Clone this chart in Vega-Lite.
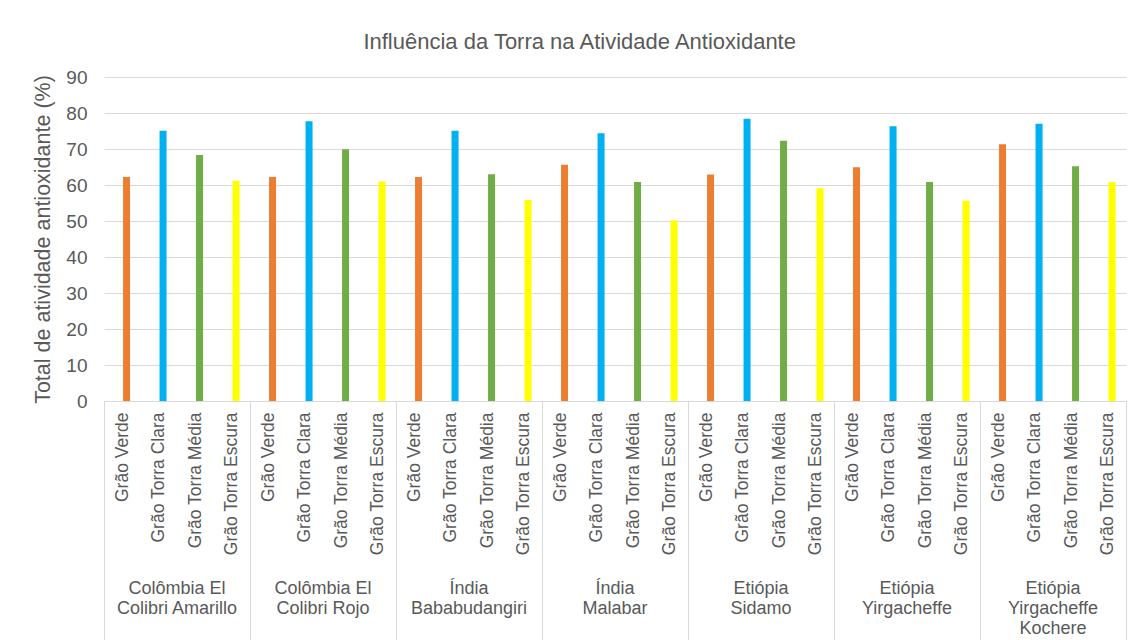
{
  "$schema": "https://vega.github.io/schema/vega-lite/v6.json",
  "padding": {"left": 32, "top": 31, "right": 0, "bottom": 0},
  "background": "white",
  "config": {"font": "Liberation Sans", "view": {"stroke": null}, "facet": {"spacing": 0}},
  "title": {"text": "Influência da Torra na Atividade Antioxidante", "fontSize": 22, "fontWeight": "normal", "color": "#595959", "offset": 14, "anchor": "middle"},
  "data": {"values": [
    {"origem": "Colômbia El\nColibri Amarillo", "torra": "Grão Verde", "valor": 62.2},
    {"origem": "Colômbia El\nColibri Amarillo", "torra": "Grão Torra Clara", "valor": 75.1},
    {"origem": "Colômbia El\nColibri Amarillo", "torra": "Grão Torra Média", "valor": 68.3},
    {"origem": "Colômbia El\nColibri Amarillo", "torra": "Grão Torra Escura", "valor": 61.2},
    {"origem": "Colômbia El\nColibri Rojo", "torra": "Grão Verde", "valor": 62.2},
    {"origem": "Colômbia El\nColibri Rojo", "torra": "Grão Torra Clara", "valor": 77.7},
    {"origem": "Colômbia El\nColibri Rojo", "torra": "Grão Torra Média", "valor": 69.9},
    {"origem": "Colômbia El\nColibri Rojo", "torra": "Grão Torra Escura", "valor": 61.0},
    {"origem": "Índia\nBababudangiri", "torra": "Grão Verde", "valor": 62.2},
    {"origem": "Índia\nBababudangiri", "torra": "Grão Torra Clara", "valor": 75.1},
    {"origem": "Índia\nBababudangiri", "torra": "Grão Torra Média", "valor": 63.0},
    {"origem": "Índia\nBababudangiri", "torra": "Grão Torra Escura", "valor": 55.8},
    {"origem": "Índia\nMalabar", "torra": "Grão Verde", "valor": 65.6},
    {"origem": "Índia\nMalabar", "torra": "Grão Torra Clara", "valor": 74.4},
    {"origem": "Índia\nMalabar", "torra": "Grão Torra Média", "valor": 60.8},
    {"origem": "Índia\nMalabar", "torra": "Grão Torra Escura", "valor": 50.2},
    {"origem": "Etiópia\nSidamo", "torra": "Grão Verde", "valor": 62.9},
    {"origem": "Etiópia\nSidamo", "torra": "Grão Torra Clara", "valor": 78.4},
    {"origem": "Etiópia\nSidamo", "torra": "Grão Torra Média", "valor": 72.3},
    {"origem": "Etiópia\nSidamo", "torra": "Grão Torra Escura", "valor": 59.1},
    {"origem": "Etiópia\nYirgacheffe", "torra": "Grão Verde", "valor": 64.9},
    {"origem": "Etiópia\nYirgacheffe", "torra": "Grão Torra Clara", "valor": 76.3},
    {"origem": "Etiópia\nYirgacheffe", "torra": "Grão Torra Média", "valor": 60.8},
    {"origem": "Etiópia\nYirgacheffe", "torra": "Grão Torra Escura", "valor": 55.6},
    {"origem": "Etiópia\nYirgacheffe\nKochere", "torra": "Grão Verde", "valor": 71.3},
    {"origem": "Etiópia\nYirgacheffe\nKochere", "torra": "Grão Torra Clara", "valor": 77.0},
    {"origem": "Etiópia\nYirgacheffe\nKochere", "torra": "Grão Torra Média", "valor": 65.2},
    {"origem": "Etiópia\nYirgacheffe\nKochere", "torra": "Grão Torra Escura", "valor": 60.8}
  ]},
  "spacing": 0,
  "facet": {
    "column": {
      "field": "origem", "type": "nominal",
      "sort": ["Colômbia El\nColibri Amarillo", "Colômbia El\nColibri Rojo", "Índia\nBababudangiri", "Índia\nMalabar", "Etiópia\nSidamo", "Etiópia\nYirgacheffe", "Etiópia\nYirgacheffe\nKochere"],
      "header": {
        "title": null,
        "labelOrient": "bottom",
        "labelExpr": "split(datum.value, '\\n')",
        "labelFontSize": 18,
        "labelColor": "#595959",
        "labelLineHeight": 20,
        "labelBaseline": "top",
        "labelPadding": -62
      }
    }
  },
  "spec": {
    "width": 146,
    "height": 324,
    "mark": {"type": "bar", "width": 7, "xOffset": 4.3},
    "encoding": {
      "x": {
        "field": "torra", "type": "nominal",
        "sort": ["Grão Verde", "Grão Torra Clara", "Grão Torra Média", "Grão Torra Escura"],
        "scale": {"paddingInner": 0, "paddingOuter": 0},
        "axis": {
          "title": null,
          "labelAngle": -90,
          "labelFontSize": 17.5,
          "labelColor": "#595959",
          "labelPadding": -229,
          "domainColor": "#D9D9D9",
          "tickColor": "#D9D9D9",
          "tickSize": 240,
          "tickBand": "extent",
          "tickOpacity": {"condition": {"test": "datum.value === 'Grão Torra Escura' || datum.value == null", "value": 1}, "value": 0}
        }
      },
      "y": {
        "field": "valor", "type": "quantitative",
        "scale": {"domain": [0, 90], "nice": false},
        "axis": {
          "title": "Total de atividade antioxidante (%)",
          "titleFontSize": 21.5,
          "titleFontWeight": "normal",
          "titleColor": "#595959",
          "titlePadding": 11,
          "labelFontSize": 19,
          "labelColor": "#595959",
          "labelPadding": 17,
          "ticks": false,
          "domain": false,
          "gridColor": "#D9D9D9",
          "values": [0, 10, 20, 30, 40, 50, 60, 70, 80, 90]
        }
      },
      "color": {
        "field": "torra", "type": "nominal",
        "scale": {"domain": ["Grão Verde", "Grão Torra Clara", "Grão Torra Média", "Grão Torra Escura"], "range": ["#ED7D31", "#00B0F0", "#70AD47", "#FFFF00"]},
        "legend": null
      }
    }
  }
}
